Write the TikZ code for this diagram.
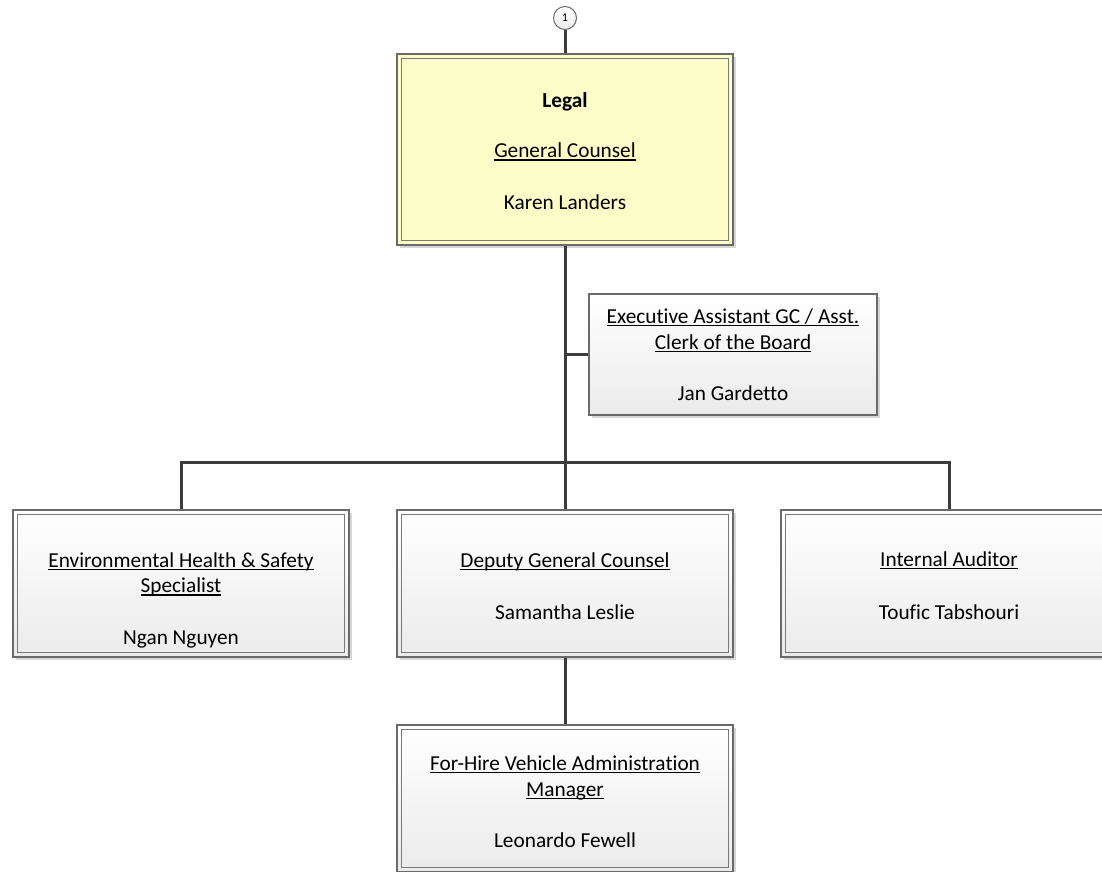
\documentclass[tikz,border=0pt]{standalone}
\usepackage{fontspec}
\setmainfont{Carlito}[Ligatures={NoCommon}]
\usetikzlibrary{shadows}
\definecolor{linec}{HTML}{3C3C3C}
\definecolor{bordc}{HTML}{6A6A6A}
\definecolor{innerc}{HTML}{7A7A7A}
\definecolor{boxbot}{HTML}{EBEBEB}
\definecolor{legalc}{HTML}{FCFCC8}
\definecolor{shadc}{HTML}{D6D6D6}
\newsavebox\ulbox
\newcommand\ulx[1]{\sbox\ulbox{#1}\rlap{\rule[-3pt]{\wd\ulbox}{1.3pt}}\usebox\ulbox}
\newcommand\boxfont{\fontsize{21.3pt}{26pt}\selectfont}
\begin{document}
\begin{tikzpicture}[x=1pt,y=-1pt,
 conn/.style={draw=linec,line width=3pt},
 frame/.style={rectangle,draw=bordc,line width=1.2pt,inner sep=0pt,
   drop shadow={shadow xshift=3pt,shadow yshift=-3pt,fill=shadc,opacity=1}},
 gbox/.style={frame,top color=white,bottom color=boxbot},
 ybox/.style={frame,fill=legalc},
 wide/.style={minimum width=336pt,minimum height=147pt},
 innerb/.style={draw=innerc,line width=1.2pt},
 txt/.style={anchor=base,inner sep=0pt,font=\boxfont},
 circ/.style={circle,draw=bordc,line width=1pt,top color=white,bottom color=boxbot,
   minimum size=23pt,inner sep=0pt,font=\fontsize{12pt}{14pt}\selectfont}
]
\clip (0,0) rectangle (1102,871);
\fill[white] (0,0) rectangle (1102,871);

% boxes
\node[ybox,minimum width=336pt,minimum height=191pt] (legal) at (565,149.5) {};
\node[gbox,minimum width=288pt,minimum height=121pt] (exec) at (733,354.5) {};
\node[gbox,wide] (env) at (181,583.5) {};
\node[gbox,wide] (dep) at (565,583.5) {};
\node[gbox,wide] (ia) at (949,583.5) {};
\node[gbox,wide] (fhv) at (565,798.5) {};
\node[circ] (c1) at (565,18) {1};

\foreach \n in {legal,env,dep,ia,fhv}
  \draw[innerb] ([xshift=5pt,yshift=-5pt]\n.north west) rectangle ([xshift=-5pt,yshift=5pt]\n.south east);

% connectors
\coordinate (bus) at (565,462);
\draw[conn] (c1) -- (legal);
\draw[conn] (legal) -- (dep);
\draw[conn] (exec.west) -- (exec.west -| legal.south);
\draw[conn] (env.north) |- (bus) -| (ia.north);
\draw[conn] (dep) -- (fhv);

% texts
\node[txt,font=\boxfont\bfseries] (lt1) at (565,107) {Legal};
\node[txt] (lt2) at (565,157.5) {\ulx{General Counsel}};
\node[txt] (lt3) at (565,209) {Karen Landers};

\node[txt] (et1) at (733,323) {\ulx{Executive Assistant GC / Asst.}};
\node[txt] (et2) at (733,349) {\ulx{Clerk of the Board}};
\node[txt] (et3) at (733,400) {Jan Gardetto};

\node[txt] (vt1) at (181,567) {\ulx{Environmental Health \& Safety}};
\node[txt] (vt2) at (181,592.5) {\ulx{Specialist}};
\node[txt] (vt3) at (181,644) {Ngan Nguyen};

\node[txt] (dt1) at (565,567) {\ulx{Deputy General Counsel}};
\node[txt] (dt2) at (565,619) {Samantha Leslie};

\node[txt] (it1) at (949,566) {\ulx{Internal Auditor}};
\node[txt] (it2) at (949,619) {Toufic Tabshouri};

\node[txt] (ft1) at (565,770) {\ulx{For-Hire Vehicle Administration}};
\node[txt] (ft2) at (565,796) {\ulx{Manager}};
\node[txt] (ft3) at (565,847) {Leonardo Fewell};
\end{tikzpicture}
\end{document}
